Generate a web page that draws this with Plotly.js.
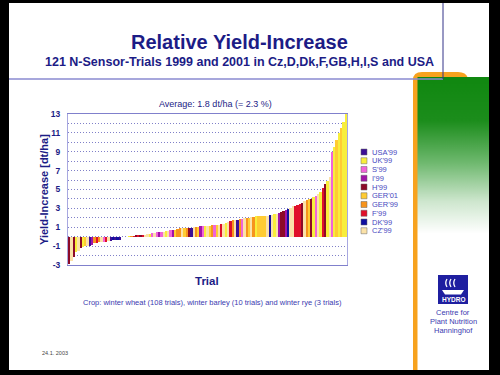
<!DOCTYPE html>
<html><head><meta charset="utf-8">
<script src="https://cdn.plot.ly/plotly-3.0.1.min.js"></script>
<style>html,body{margin:0;padding:0;background:#fff;}#chart{width:500px;height:375px;}</style>
</head><body><div id="chart"></div>
<script>
// ---- data ----
const countries = ["USA'99","UK'99","S'99","I'99","H'99","GER'01","GER'99","F'99","DK'99","CZ'99"];
const countryColors = ["#3c0f96","#f8ee3c","#f064d8","#a014a8","#8c0a28","#ffcc33","#f7941d","#e0102a","#1010a0","#fbe2a8"];
const trialValues = [-2.9,-2.6,-2.1,-1.6,-1.5,-1.2,-1.1,-1.0,-1.0,-0.95,-0.9,-0.7,-0.65,-0.6,-0.6,-0.6,-0.55,-0.5,-0.45,-0.4,-0.4,-0.35,-0.3,-0.05,0.0,0.02,0.03,
0.05,0.1,0.15,0.15,0.2,0.2,0.2,0.25,0.3,0.35,0.4,
0.5,0.5,0.55,0.55,0.6,0.65,0.7,0.7,0.75,
0.85,0.9,0.9,0.9,0.95,0.95,0.95,1.0,1.0,1.05,
1.1,1.1,1.1,1.15,1.15,1.2,1.2,1.2,1.25,1.3,1.35,
1.5,1.6,1.7,1.75,1.8,1.8,1.85,1.9,1.95,
2.0,2.0,2.05,2.1,2.15,2.2,2.2,2.2,2.2,2.22,2.25,2.3,2.4,2.45,
2.5,2.6,2.7,2.8,2.9,3.0,3.2,3.3,3.4,3.5,3.6,
3.8,3.9,4.0,4.0,4.2,4.3,4.5,4.7,5.2,5.6,5.9,6.3,
9.0,9.5,10.2,11.0,11.5,12.2,13.0];
const trialCountry = ["H'99","CZ'99","H'99","UK'99","CZ'99","H'99","UK'99","GER'01","CZ'99","USA'99","I'99","GER'99","F'99","GER'99","CZ'99","S'99","F'99","CZ'99","USA'99","DK'99","USA'99","DK'99","USA'99","CZ'99","GER'01","CZ'99","UK'99",
"GER'99","F'99","H'99","F'99","H'99","F'99","CZ'99","CZ'99","UK'99","S'99","CZ'99",
"S'99","I'99","S'99","CZ'99","UK'99","CZ'99","S'99","I'99","GER'01",
"GER'99","GER'99","CZ'99","GER'01","GER'99","H'99","USA'99","CZ'99","GER'99","GER'01",
"I'99","S'99","UK'99","CZ'99","GER'01","GER'99","S'99","GER'01","CZ'99","F'99","CZ'99",
"UK'99","CZ'99","F'99","GER'99","CZ'99","USA'99","GER'99","S'99","CZ'99",
"GER'99","GER'01","CZ'99","GER'99","UK'99","GER'01","GER'01","GER'01","GER'01","CZ'99","DK'99","CZ'99","UK'99","CZ'99",
"I'99","H'99","H'99","I'99","DK'99","CZ'99","CZ'99","F'99","F'99","F'99","H'99",
"CZ'99","GER'99","GER'01","H'99","UK'99","S'99","CZ'99","UK'99","F'99","H'99","UK'99","CZ'99",
"S'99","UK'99","GER'01","UK'99","GER'01","UK'99","UK'99"];
const yTickVals = [-3,-1,1,3,5,7,9,11,13];
const yTickText = ["-3","-1","1","3","5","7","9","11","13"];
const titleText = "Relative Yield-Increase";
const subtitleText = "121 N-Sensor-Trials 1999 and 2001 in Cz,D,Dk,F,GB,H,I,S and USA";
const averageText = "Average: 1.8 dt/ha (= 2.3 %)";
const yTitleText = "Yield-Increase [dt/ha]";
const xTitleText = "Trial";
const cropText = "Crop: winter wheat (108 trials), winter barley (10 trials) and winter rye (3 trials)";
const logoLines = ["Centre for","Plant Nutrition","Hanninghof"];
const dateText = "24.1. 2003";

// ---- geometry helpers ----
const W=500,H=375,L=68,R=153,T=114,B=110;
const PW=W-L-R, PH=H-T-B;
const px=v=>(v-L)/PW, py=v=>(H-B-v)/PH;
const FONT='"Liberation Sans", Arial, sans-serif';
const NAVY='#1c1c86', TXT='#3a3ab0';

// ---- traces ----
const traces=[];
countries.forEach((c,k)=>{
  const xs=[],ys=[];
  trialValues.forEach((v,i)=>{ if(trialCountry[i]===c){xs.push(i+1);ys.push(v);} });
  traces.push({type:'bar',x:xs,y:ys,name:c,width:1,marker:{color:countryColors[k],line:{width:0}},hoverinfo:'skip',showlegend:false});
});

// ---- decoration ----
function grad(){
  const c=document.createElement('canvas'); c.width=72; c.height=160;
  const g=c.getContext('2d'); const gr=g.createLinearGradient(0,0,0,160);
  gr.addColorStop(0,'#108810'); gr.addColorStop(0.28,'#1c8d1c'); gr.addColorStop(0.55,'#6fb96f');
  gr.addColorStop(0.8,'#cfe7cf'); gr.addColorStop(1,'#ffffff');
  g.fillStyle=gr; g.fillRect(0,0,72,160); return c.toDataURL();
}
const shapes=[];
function rect(x0,y0,x1,y1,fill,layer,line){shapes.push({type:'rect',xref:'paper',yref:'paper',x0:px(x0),x1:px(x1),y0:py(y1),y1:py(y0),fillcolor:fill,line:line||{width:0},layer:layer||'above'});}
function seg(x0,y0,x1,y1,color,w){shapes.push({type:'line',xref:'paper',yref:'paper',x0:px(x0),x1:px(x1),y0:py(y0),y1:py(y1),line:{color:color,width:w},layer:'above'});}
function path(pts,fill,line,layer){
  const d=pts.map(p=>{const c=p[0];const a=[];for(let i=1;i<p.length;i+=2){a.push(px(p[i])+','+py(p[i+1]));}return c+a.join(' ');}).join(' ');
  shapes.push({type:'path',xref:'paper',yref:'paper',path:d,fillcolor:fill,line:line||{width:0},layer:layer||'below'});
}
// orange tab + stripe (under green image)
path([['M',413,370],['L',413,80],['Q',413,72,422,72],['L',458,72],['Q',466,72,468,78],['L',468,370],['Z']],'#f7a21e',{width:0},'below');
rect(417.5,233,489,370,'#ffffff','below');
// black borders
rect(0,0,9,375,'#000000');
rect(0,0,500,3,'#000000');
rect(489,0,500,375,'#000000');
rect(0,370,500,375,'#000000');
// header lines
seg(9,79,443,79,'#8a8ad0',1.5);
seg(443,3,443,79,'#333388',1);
// legend
const legAnn=[];
countries.forEach((c,k)=>{
  const yc=152+8.75*k;
  rect(361,yc-3,367,yc+3,countryColors[k],'above',{color:'#666666',width:0.5});
  legAnn.push({xref:'paper',yref:'paper',x:px(370),y:py(yc),xanchor:'left',yanchor:'middle',text:c,showarrow:false,font:{family:FONT,size:7.5,color:'#4848c0'}});
});
// Hydro logo
rect(438,275,468,304,'#1f1fa0','above');
[[447,279],[451,279],[455,279]].forEach(p=>{
  path([['M',p[0],p[1]],['Q',p[0]-2.5,p[1]+4,p[0],p[1]+8]],'rgba(0,0,0,0)',{color:'#ffffff',width:1.3},'above');
});
path([['M',442,290],['L',464,290],['L',461,294.5],['L',445,294.5],['Z']],'#ffffff',{width:0},'above');

const ann=[
 {text:titleText,x:px(239),y:py(42.5),font:{size:20,color:NAVY,weight:700}},
 {text:subtitleText,x:px(239.5),y:py(62),font:{size:12.5,color:NAVY,weight:700}},
 {text:averageText,x:px(215),y:py(104),font:{size:9,color:NAVY}},
 {text:yTitleText,x:px(44),y:py(190),textangle:-90,font:{size:11,color:NAVY,weight:700}},
 {text:xTitleText,x:px(207),y:py(280.5),font:{size:11.5,color:NAVY,weight:700}},
 {text:cropText,x:px(212),y:py(302),font:{size:7.5,color:TXT}},
 {text:'HYDRO',x:px(453),y:py(299.5),font:{size:6.5,color:'#ffffff',weight:700}},
 {text:logoLines[0],x:px(453),y:py(312.5),font:{size:7.5,color:TXT}},
 {text:logoLines[1],x:px(453),y:py(321.5),font:{size:7.5,color:TXT}},
 {text:logoLines[2],x:px(453),y:py(330.5),font:{size:7.5,color:TXT}},
 {text:dateText,x:px(40),y:py(353),xanchor:'left',font:{size:5.5,color:'#444444'}}
].map(a=>Object.assign({xref:'paper',yref:'paper',showarrow:false,xanchor:'center',yanchor:'middle'},a,{font:Object.assign({family:FONT},a.font)})).concat(legAnn);

const GRID='#8080c8', DASH='1px,2px';
const layout={
  width:W,height:H,margin:{l:L,r:R,t:T,b:B,pad:0},
  paper_bgcolor:'#ffffff',plot_bgcolor:'#ffffff',
  barmode:'overlay',bargap:0,showlegend:false,
  font:{family:FONT,color:NAVY},
  xaxis:{range:[0.5,121.5],showticklabels:false,ticks:'',showgrid:false,zeroline:false,
         showline:true,mirror:true,linecolor:'#8080cc',linewidth:1,fixedrange:true},
  yaxis:{range:[-3,13],tickvals:yTickVals,ticktext:yTickText,ticks:'',ticklabelstandoff:5,
         tickfont:{family:FONT,size:8.5,color:NAVY,weight:700},
         showgrid:true,gridcolor:GRID,griddash:DASH,gridwidth:1,zeroline:false,
         minor:{dtick:1,tick0:0,showgrid:true,gridcolor:GRID,griddash:DASH,gridwidth:1,ticks:''},
         showline:true,mirror:true,linecolor:'#a8a8e0',linewidth:1,fixedrange:true},
  shapes:shapes,annotations:ann,
  images:[{source:grad(),xref:'paper',yref:'paper',x:px(417.5),y:py(77),sizex:71.5/PW,sizey:156/PH,
           sizing:'stretch',xanchor:'left',yanchor:'top',layer:'above'}]
};
Plotly.newPlot('chart',traces,layout,{staticPlot:true,displayModeBar:false});
</script></body></html>
